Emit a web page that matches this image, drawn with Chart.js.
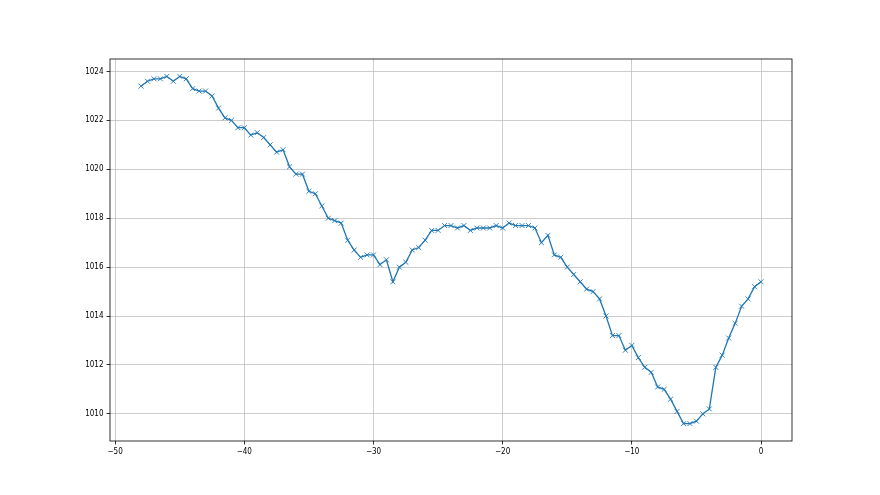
<!DOCTYPE html>
<html>
<head>
<meta charset="utf-8">
<script src="https://cdn.jsdelivr.net/npm/chart.js@4/dist/chart.umd.min.js"></script>
<style>
html,body{margin:0;padding:0;background:#fff;}
canvas{display:block;}
</style>
</head>
<body>
<canvas id="c" width="880" height="495"></canvas>
<script>
// Time offsets (x) and pressure readings (y)
const hours = [
  -48,-47.5,-47,-46.5,-46,-45.5,-45,-44.5,-44,-43.5,-43,-42.5,-42,-41.5,-41,-40.5,-40,-39.5,-39,-38.5,
  -38,-37.5,-37,-36.5,-36,-35.5,-35,-34.5,-34,-33.5,-33,-32.5,-32,-31.5,-31,-30.5,-30,-29.5,-29,
  -28.5,-28,-27.5,-27,-26.5,-26,-25.5,-25,-24.5,-24,-23.5,-23,-22.5,-22,-21.5,-21,-20.5,-20,-19.5,-19,
  -18.5,-18,-17.5,-17,-16.5,-16,-15.5,-15,-14.5,-14,-13.5,-13,-12.5,-12,-11.5,-11,-10.5,-10,
  -9.5,-9,-8.5,-8,-7.5,-7,-6.5,-6,-5.5,-5,-4.5,-4,-3.5,-3,-2.5,-2,-1.5,-1,-0.5,0
];
const pressure = [
  1023.4,1023.6,1023.7,1023.7,1023.8,1023.6,1023.8,1023.7,1023.3,1023.2,1023.2,1023.0,1022.5,1022.1,1022.0,1021.7,1021.7,1021.4,1021.5,1021.3,
  1021.0,1020.7,1020.8,1020.1,1019.8,1019.8,1019.1,1019.0,1018.5,1018.0,1017.9,1017.8,1017.1,1016.7,1016.4,1016.5,1016.5,1016.1,1016.3,
  1015.4,1016.0,1016.2,1016.7,1016.8,1017.1,1017.5,1017.5,1017.7,1017.7,1017.6,1017.7,1017.5,1017.6,1017.6,1017.6,1017.7,1017.6,1017.8,1017.7,
  1017.7,1017.7,1017.6,1017.0,1017.3,1016.5,1016.4,1016.0,1015.7,1015.4,1015.1,1015.0,1014.7,1014.0,1013.2,1013.2,1012.6,1012.8,
  1012.3,1011.9,1011.7,1011.1,1011.0,1010.6,1010.1,1009.6,1009.6,1009.7,1010.0,1010.2,1011.9,1012.4,1013.1,1013.7,1014.4,1014.7,1015.2,1015.4
];
const xTicks = [-50,-40,-30,-20,-10,0];
const yTicks = [1010,1012,1014,1016,1018,1020,1022,1024];

const points = hours.map((h,i)=>({x:h,y:pressure[i]}));
const tickFont = {family:"'Liberation Sans Narrow','DejaVu Sans Condensed','DejaVu Sans',sans-serif", size:8};
const fmt = v => (v<0 ? '\u2212'+Math.abs(v) : String(v));

const framePlugin = {
  id:'frame',
  afterDatasetsDraw(chart){
    const a = chart.chartArea, ctx = chart.ctx;
    ctx.save();
    ctx.strokeStyle = '#000';
    ctx.lineWidth = 0.8;
    ctx.strokeRect(a.left, a.top, a.right-a.left, a.bottom-a.top);
    ctx.restore();
  }
};

new Chart(document.getElementById('c'), {
  type:'line',
  data:{datasets:[{
    data: points,
    borderColor:'#1f77b4',
    backgroundColor:'#1f77b4',
    borderWidth:1.3,
    pointStyle:'crossRot',
    pointRadius:3.5,
    pointBorderWidth:0.9,
    pointBorderColor:'#1f77b4',
    tension:0,
    fill:false
  }]},
  options:{
    responsive:false,
    animation:false,
    devicePixelRatio:1,
    layout:{padding:{left:0, top:59, right:88, bottom:0}},
    plugins:{legend:{display:false}, tooltip:{enabled:false}},
    scales:{
      x:{
        type:'linear',
        min:-50.4, max:2.4,
        afterBuildTicks(s){ s.ticks = xTicks.map(v=>({value:v})); },
        afterFit(s){ s.height = 54; },
        grid:{color:'#c0c0c0', lineWidth:0.8, tickColor:'#000', tickLength:3.5, tickWidth:0.8},
        border:{display:false},
        ticks:{font:tickFont, color:'#000', padding:3, maxRotation:0, autoSkip:false, callback:fmt}
      },
      y:{
        type:'linear',
        min:1008.89, max:1024.51,
        afterBuildTicks(s){ s.ticks = yTicks.map(v=>({value:v})); },
        afterFit(s){ s.width = 110; },
        grid:{color:'#c0c0c0', lineWidth:0.8, tickColor:'#000', tickLength:3.5, tickWidth:0.8},
        border:{display:false},
        ticks:{font:tickFont, color:'#000', padding:3, autoSkip:false, callback:fmt}
      }
    }
  },
  plugins:[framePlugin]
});
</script>
</body>
</html>
